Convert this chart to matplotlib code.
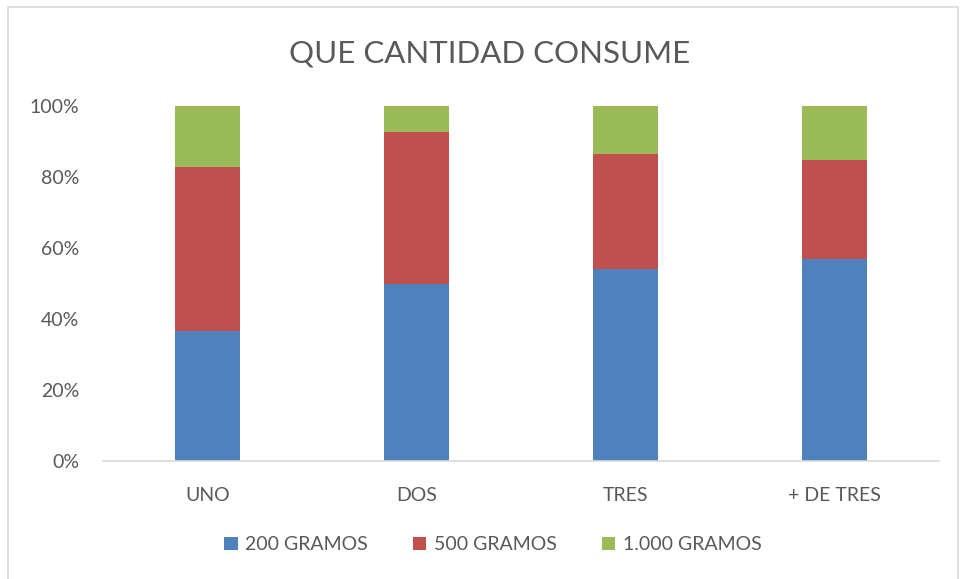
import matplotlib
matplotlib.use("Agg")
import matplotlib.pyplot as plt
from matplotlib.patches import Rectangle
from matplotlib.ticker import PercentFormatter
import numpy as np

categories = ["UNO", "DOS", "TRES", "+ DE TRES"]
series_names = ["200 GRAMOS", "500 GRAMOS", "1.000 GRAMOS"]
g200 = [36.7, 50.0, 54.2, 57.0]
g500 = [46.1, 42.7, 32.4, 27.8]
g1000 = [17.2, 7.3, 13.4, 15.2]
colors = ["#4F81BD", "#C0504D", "#9BBB59"]
title = "QUE CANTIDAD CONSUME"

plt.rcParams['font.family'] = ['Lato', 'DejaVu Sans']
txt = "#595959"

fig = plt.figure(figsize=(9.61, 5.79), dpi=100)
ax = fig.add_axes([0.107, 0.2038, 0.870, 0.6130])

x = np.arange(len(categories))
data = [g200, g500, g1000]
totals = np.array(g200) + np.array(g500) + np.array(g1000)
bottom = np.zeros(len(categories))
for vals, c, name in zip(data, colors, series_names):
    frac = np.array(vals) / totals
    ax.bar(x, frac, 0.31, bottom=bottom, color=c, label=name, zorder=2)
    bottom += frac

ax.set_xlim(-0.5, len(categories) - 0.5)
ax.set_ylim(0, 1)
ax.set_yticks(np.arange(0, 1.01, 0.2))
ax.yaxis.set_major_formatter(PercentFormatter(1.0, decimals=0))
ax.set_xticks(x)
ax.set_xticklabels(categories)
for s in ["top", "right", "left"]:
    ax.spines[s].set_visible(False)
ax.spines["bottom"].set_color("#D9D9D9")
ax.spines["bottom"].set_linewidth(1.2)
ax.tick_params(axis="y", length=0, pad=17, labelsize=14, labelcolor=txt)
ax.tick_params(axis="x", length=0, pad=19, labelsize=14, labelcolor=txt)

fig.text(0.509, 0.907, title, ha="center", va="center", fontsize=22.5, color=txt)

leg = fig.legend(loc="center", bbox_to_anchor=(0.513, 0.059), ncol=3, frameon=False,
                 fontsize=14, handlelength=0.7, handleheight=0.7, handletextpad=0.4,
                 columnspacing=2.3)
for t in leg.get_texts():
    t.set_color(txt)

fig.patches.append(Rectangle((8 / 961, -0.01), 950 / 961, 1 - 7 / 579 + 0.01,
                             transform=fig.transFigure, fill=False,
                             edgecolor="#D9D9D9", linewidth=1.2))

fig.savefig("out.png", dpi=100)
